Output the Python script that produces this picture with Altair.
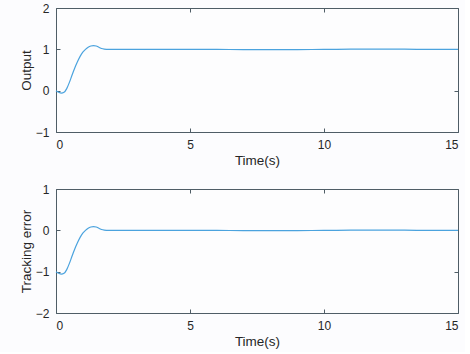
import altair as alt
import pandas as pd

time_s = [0, 0.1, 0.2, 0.3, 0.4, 0.5, 0.6, 0.7, 0.8, 0.9, 1.0, 1.1, 1.2, 1.3,
          1.4, 1.5, 1.6, 1.7, 1.8, 1.9, 2.0, 2.5, 3, 4, 5, 6, 7, 8, 9, 10,
          11, 12, 13, 14, 15]
output = [0.0, -0.04, -0.06, -0.04, 0.05, 0.2, 0.38, 0.55, 0.7, 0.83, 0.93,
          1.0, 1.05, 1.08, 1.09, 1.08, 1.05, 1.02, 1.005, 1.0, 0.998, 0.997,
          0.998, 1.0, 1.0, 0.997, 0.994, 0.993, 0.994, 0.998, 1.003, 1.005,
          1.003, 1.0, 1.0]
tracking_error = [-1.0, -1.04, -1.06, -1.04, -0.95, -0.8, -0.62, -0.45, -0.3,
                  -0.17, -0.07, 0.0, 0.05, 0.08, 0.09, 0.08, 0.05, 0.02,
                  0.005, 0.0, -0.002, -0.003, -0.002, 0.0, 0.0, -0.003,
                  -0.006, -0.007, -0.006, -0.002, 0.003, 0.005, 0.003, 0.0,
                  0.0]

x_ticks = [0, 5, 10, 15]
out_ticks = [-1, 0, 1, 2]
err_ticks = [-2, -1, 0, 1]

LINE = "#4ba3de"
AX = "#4f5d66"
TXT = "#262626"
FONT = "Liberation Sans"

df_out = pd.DataFrame({"t": time_s, "v": output})
df_err = pd.DataFrame({"t": time_s, "v": tracking_error})


def panel(df, ylabel, yticks):
    xs = alt.Scale(domain=[0, 15], nice=False)
    ys = alt.Scale(domain=[yticks[0], yticks[-1]], nice=False)
    main = alt.Chart(df).mark_line(color=LINE, strokeWidth=1.2, interpolate="monotone").encode(
        x=alt.X("t:Q", scale=xs, axis=alt.Axis(
            values=x_ticks, title="Time(s)", orient="bottom", domain=False,
            tickSize=4, offset=-4, tickColor=AX, labelPadding=7,
            labelFontSize=12, labelColor=TXT, labelFont=FONT,
            titleFontSize=13.5, titleColor=TXT, titleFont=FONT,
            titleFontWeight="normal", titlePadding=3, grid=False)),
        y=alt.Y("v:Q", scale=ys, axis=alt.Axis(
            values=yticks, title=ylabel, orient="left", domain=False,
            tickSize=4, offset=-4, tickColor=AX, labelPadding=7,
            labelFontSize=12, labelColor=TXT, labelFont=FONT,
            titleFontSize=13.5, titleColor=TXT, titleFont=FONT,
            titleFontWeight="normal", titlePadding=2, grid=False)),
    )
    mirror = alt.Chart(df).mark_line(opacity=0).encode(
        x=alt.X("t:Q", scale=xs, axis=alt.Axis(
            values=x_ticks, title=None, orient="top", domain=False,
            labels=False, tickSize=4, offset=-4, tickColor=AX, grid=False)),
        y=alt.Y("v:Q", scale=ys, axis=alt.Axis(
            values=yticks, title=None, orient="right", domain=False,
            labels=False, tickSize=4, offset=-4, tickColor=AX, grid=False)),
    )
    return alt.layer(main, mirror).resolve_axis(x="independent", y="independent").properties(
        width=402, height=124)


top = panel(df_out, "Output", out_ticks)
bottom = panel(df_err, "Tracking error", err_ticks)

chart = alt.vconcat(top, bottom, spacing=57, bounds="flush").properties(
    padding={"left": 18, "top": 1, "right": 4, "bottom": 4},
    background="#fcfcfe",
).configure_view(stroke=AX, strokeWidth=1, fill="#fdfdfe")

chart.save("out.html", embed_options={"renderer": "svg", "actions": False})
